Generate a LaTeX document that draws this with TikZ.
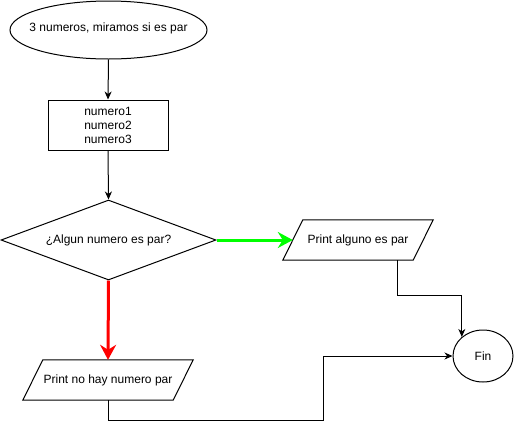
\documentclass[tikz,border=0pt]{standalone}
\usepackage{fontspec}
\setmainfont{Liberation Sans}
\usetikzlibrary{shapes.geometric,arrows.meta}
\begin{document}
\begin{tikzpicture}[x=1pt,y=-1pt,
  every node/.style={font=\fontsize{12}{14}\selectfont, inner sep=0pt},
  shp/.style={draw, line width=1pt},
  conn/.style={line width=1pt, -{Stealth[length=8pt,width=7pt,inset=2.5pt]}},
  thickconn/.style={line width=3pt, -{Stealth[length=15pt,width=16pt,inset=5pt]}}]
\useasboundingbox (0,0) rectangle (514,429);
\node[shp, ellipse, minimum width=197pt, minimum height=58pt] (start) at (108.5,30) {\makebox[0pt]{\raisebox{5pt}{3 numeros, miramos si es par}}};
\node[shp, rectangle, minimum width=120pt, minimum height=50pt, align=center] (vars) at (108,125) {numero1\\numero2\\numero3};
\node[shp, diamond, minimum width=215pt, minimum height=80pt] (dec) at (108.5,240) {\makebox[0pt]{¿Algun numero es par?}};
\node[minimum width=150pt, minimum height=40pt] (p1) at (358,240) {Print alguno es par};
\draw[line width=1pt] ([xshift=20pt]p1.north west) -- (p1.north east) -- ([xshift=-20pt]p1.south east) -- (p1.south west) -- cycle;
\node[minimum width=170pt, minimum height=40pt] (p2) at (108,380) {Print no hay numero par};
\draw[line width=1pt] ([xshift=20pt]p2.north west) -- (p2.north east) -- ([xshift=-20pt]p2.south east) -- (p2.south west) -- cycle;
\node[shp, ellipse, minimum width=60pt, minimum height=52pt] (fin) at (483,356) {Fin};
\coordinate (b1) at (323,420);
\draw[conn] (start.south) -- (vars.north);
\draw[conn] (vars.south) -- (dec.north);
\draw[thickconn, color={rgb,255:red,0;green,255;blue,0}] (dec.east) -- ([xshift=10pt]p1.west);
\draw[thickconn, color={rgb,255:red,255;green,0;blue,0}] (dec.south) -- (p2.north);
\draw[conn] ([xshift=39pt]p1.south) -- ++(0,35) -| (fin.138.5);
\draw[conn] (p2.south) |- (b1) |- (fin.west);
\end{tikzpicture}
\end{document}
